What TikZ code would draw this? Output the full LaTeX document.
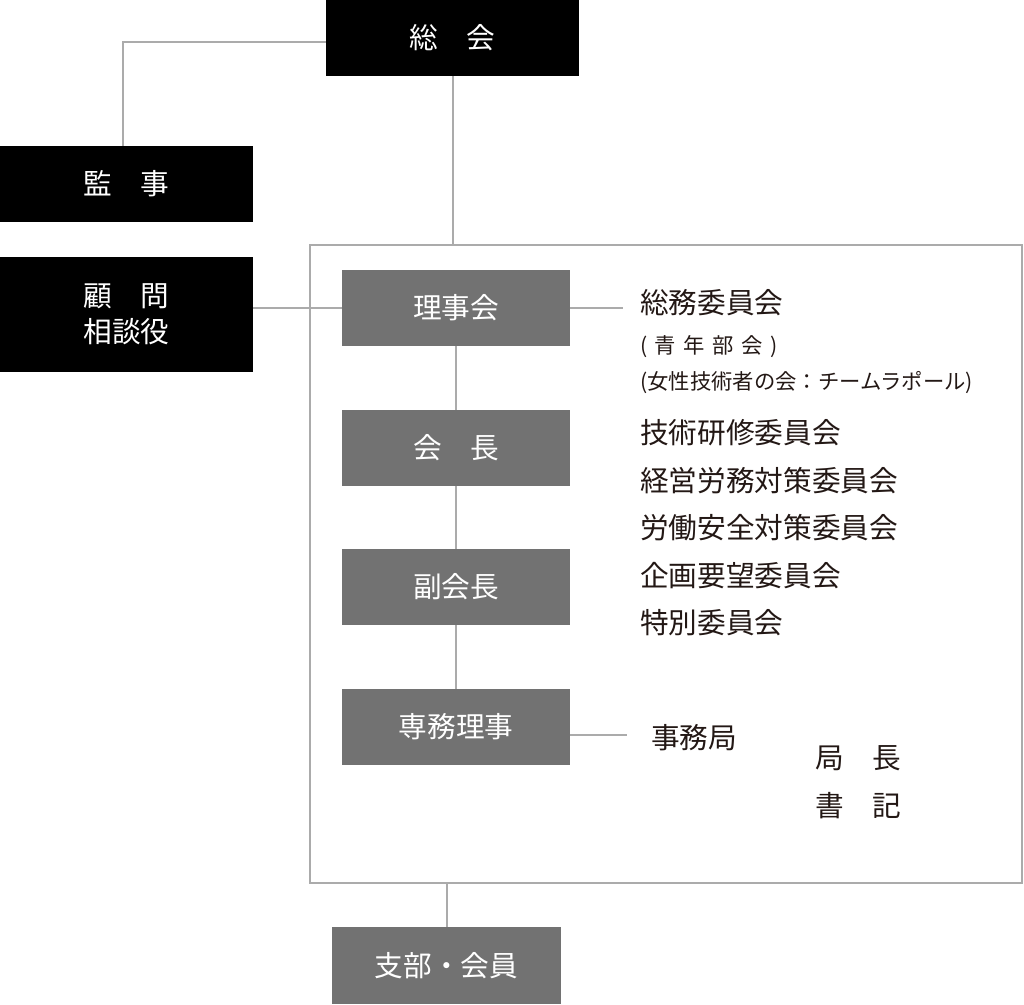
\documentclass[tikz,border=0pt]{standalone}
\usepackage{fontspec}
\setmainfont{Noto Sans CJK JP}
\definecolor{linegray}{HTML}{ABABAB}
\definecolor{boxgray}{HTML}{727272}
\definecolor{ink}{HTML}{231815}
\newcommand\orgfont{\fontsize{21.5pt}{27pt}\selectfont}
\newcommand\notefont{\fontsize{16pt}{18pt}\selectfont}
\newcommand\gap{\hspace{0.35em}}

\begin{document}
\begin{tikzpicture}[
		x=0.75pt, y=-0.75pt,
		link/.style={linegray,line width=1.5pt},
		blackbox/.style={fill=black,text=white,minimum width=189.75pt,minimum height=57pt,
			inner sep=0pt,font=\orgfont,align=center},
		graybox/.style={fill=boxgray,text=white,minimum width=171pt,minimum height=57pt,
			inner sep=0pt,font=\orgfont},
		boardframe/.style={draw=linegray,line width=1.5pt,minimum width=534pt,
			minimum height=478.5pt,inner sep=0pt},
		item/.style={anchor=west,inner sep=0pt,text=ink,font=\orgfont},
		note/.style={anchor=west,inner sep=0pt,text=ink,font=\notefont},
	]
	\useasboundingbox (0,0) rectangle (1024,1004);

	% ---------- general meeting, auditors, advisers ----------
	\node[blackbox] (soukai) at (452.5,38) {総　会};
	\node[blackbox] (kanji) at (126.5,184) {監　事};
	\node[blackbox,minimum height=86.25pt] (komon) at (126.5,314.5) {顧　問\\相談役};

	% ---------- board ----------
	\node[boardframe] (board) at (666,564) {};
	\node[graybox] (riji) at (456,308) {理事会};
	\node[graybox] (kaichou) at (456,448) {会　長};
	\node[graybox] (fuku) at (456,587) {副会長};
	\node[graybox] (senmu) at (456,727) {専務理事};

	% ---------- committees ----------
	\coordinate (rijiend) at (623,308);
	\node[item] (soumu) at (640,303) {総務委員会};
	\node[note] (seinen) at (640,347) {(\gap{}青\gap{}年\gap{}部\gap{}会\gap{})};
	\node[note] (josei) at (640,383) {(女性技術者の会：チームラポール)};
	\node[item] (gijutsu) at (640,433) {技術研修委員会};
	\node[item] (keiei) at (640,481) {経営労務対策委員会};
	\node[item] (anzen) at (640,528) {労働安全対策委員会};
	\node[item] (kikaku) at (640,576) {企画要望委員会};
	\node[item] (tokubetsu) at (640,623) {特別委員会};

	% ---------- secretariat ----------
	\coordinate (jimuend) at (627,735);
	\node[item] (jimu) at (651,738) {事務局};
	\node[item] (kyokuchou) at (815,758) {局　長};
	\node[item] (shoki) at (815,806) {書　記};

	% ---------- branches ----------
	\node[graybox,minimum width=171.75pt,minimum height=57.75pt] (shibu) at (446.5,965.5) {支部・会員};

	% ---------- connectors ----------
	\draw[link] ([yshift=-3pt]soukai.west) -| ([xshift=-2.5pt]kanji.north);
	\draw[link] (soukai.south) -- (soukai.south |- board.north);
	\draw[link] (komon.east |- riji.west) -- (riji.west);
	\draw[link] (riji.east) -- (rijiend);
	\draw[link] (riji.south) -- (kaichou.north);
	\draw[link] (kaichou.south) -- (fuku.north);
	\draw[link] (fuku.south) -- (senmu.north);
	\draw[link] (senmu.east |- jimuend) -- (jimuend);
	\draw[link] (shibu.north |- board.south) -- (shibu.north);

\end{tikzpicture}
\end{document}
